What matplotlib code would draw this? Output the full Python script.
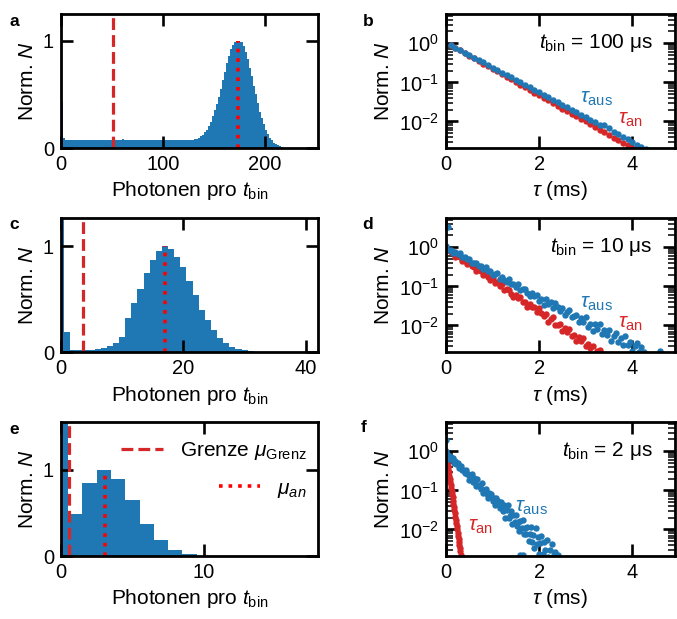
import numpy as np
import matplotlib
matplotlib.use("Agg")
import matplotlib.pyplot as plt

plt.rcParams["font.family"] = ["Liberation Sans", "DejaVu Sans"]
plt.rcParams["mathtext.fontset"] = "custom"
plt.rcParams["mathtext.rm"] = "Liberation Sans"
plt.rcParams["mathtext.it"] = "Liberation Sans:italic"
plt.rcParams["mathtext.bf"] = "Liberation Sans:bold"
plt.rcParams["axes.linewidth"] = 2.0
plt.rcParams["font.size"] = 15

BLUE = "#1f77b4"
RED = "#d62728"

# ---------- Histogramme (normiert) ----------
# a: t_bin = 100 us, Bins der Breite 2 von 0 bis 220
a_heights = [
    0.43, 0.09, 0.078, 0.072, 0.072, 0.072, 0.072, 0.072, 0.072, 0.072,
    0.072, 0.072, 0.072, 0.072, 0.072, 0.072, 0.072, 0.072, 0.072, 0.072,
    0.072, 0.072, 0.072, 0.072, 0.072, 0.072, 0.072, 0.072, 0.072, 0.072,
    0.085, 0.072, 0.072, 0.072, 0.072, 0.072, 0.072, 0.072, 0.072, 0.072,
    0.072, 0.072, 0.072, 0.072, 0.072, 0.072, 0.072, 0.072, 0.072, 0.072,
    0.072, 0.072, 0.072, 0.072, 0.072, 0.072, 0.072, 0.072, 0.072, 0.072,
    0.072, 0.072, 0.072, 0.072, 0.072,
    0.082, 0.088, 0.097, 0.108, 0.124, 0.145, 0.17, 0.205, 0.247, 0.296,
    0.35, 0.41, 0.48, 0.55, 0.63, 0.71, 0.79, 0.86, 0.92, 0.96,
    0.99, 1.0, 1.0, 0.99, 0.95, 0.90, 0.83, 0.75, 0.67, 0.58,
    0.50, 0.42, 0.34, 0.28, 0.22, 0.17, 0.13, 0.095, 0.07, 0.05,
    0.035, 0.025, 0.015, 0.008, 0.004,
]
a_grenze = 51
a_mu = 174

# c: t_bin = 10 us, Bins 0..31
c_heights = [
    3.0, 0.19, 0.015, 0.015, 0.018, 0.022, 0.03, 0.04, 0.054, 0.085,
    0.14, 0.32, 0.46, 0.60, 0.75, 0.87, 0.96, 1.0, 0.98, 0.905,
    0.81, 0.67, 0.54, 0.40, 0.30, 0.21, 0.13, 0.085, 0.047, 0.028,
    0.016, 0.01,
]
c_grenze = 3.65
c_mu = 17

# e: t_bin = 2 us, Bins 0..9
e_heights = [3.0, 0.49, 0.85, 1.0, 0.895, 0.65, 0.37, 0.18, 0.074, 0.027]
e_grenze = 0.56
e_mu = 3.08

# ---------- Abklingkurven (log10 der normierten Zählrate) ----------
# b: Bins alle 0.1 ms
b_aus_log = [
    -0.05, -0.11, -0.17, -0.24, -0.30, -0.37, -0.43, -0.49, -0.56, -0.62,
    -0.68, -0.75, -0.81, -0.87, -0.94, -1.00, -1.06, -1.13, -1.19, -1.25,
    -1.32, -1.38, -1.44, -1.51, -1.57, -1.64, -1.70, -1.76, -1.83, -1.89,
    -1.95, -2.02, -2.08, -2.10, -2.17, -2.27, -2.33, -2.40, -2.46, -2.52,
    -2.59, -2.65, -2.71,
]
b_an_log = [
    -0.05, -0.11, -0.18, -0.25, -0.32, -0.38, -0.45, -0.52, -0.59, -0.65,
    -0.72, -0.79, -0.86, -0.92, -0.99, -1.06, -1.13, -1.19, -1.26, -1.33,
    -1.40, -1.46, -1.53, -1.60, -1.67, -1.73, -1.80, -1.87, -1.94, -2.00,
    -2.07, -2.14, -2.21, -2.28, -2.34, -2.41, -2.48, -2.55, -2.61, -2.68,
]

d_aus_log = [
    0.04, -0.06, -0.06, -0.14, -0.11, -0.17, -0.15, -0.26, -0.25, -0.31,
    -0.30, -0.41, -0.39, -0.39, -0.48, -0.48, -0.56, -0.51, -0.60, -0.60,
    -0.72, -0.68, -0.67, -0.80, -0.75, -0.83, -0.90, -0.82, -0.95, -0.93,
    -1.02, -0.95, -1.10, -1.07, -1.07, -1.17, -1.24, -1.18, -1.25, -1.22,
    -1.37, -1.31, -1.47, -1.33, -1.45, -1.41, -1.56, -1.43, -1.54, -1.62,
    -1.55, -1.73, -1.65, -1.60, -1.78, -1.77, -1.72, -1.90, -1.81, -1.91,
    -1.79, -2.03, -1.96, -2.14, -1.96, -2.09, -1.96, -2.23, -2.11, -2.24,
    -2.12, -2.39, -2.27, -2.20, -2.41, -2.33, -2.51, -2.27, -2.50, -2.42,
    -2.65, -2.53, -2.45, -2.69, -2.56, -2.68,
]
d_an_log = [
    -0.07, -0.06, -0.13, -0.12, -0.24, -0.23, -0.24, -0.34, -0.34, -0.44,
    -0.39, -0.49, -0.50, -0.60, -0.59, -0.60, -0.71, -0.69, -0.76, -0.84,
    -0.78, -0.91, -0.90, -1.00, -0.93, -1.10, -1.07, -1.08, -1.19, -1.27,
    -1.22, -1.29, -1.27, -1.41, -1.39, -1.52, -1.44, -1.54, -1.53, -1.66,
    -1.56, -1.68, -1.77, -1.71, -1.90, -1.83, -1.79, -1.98, -1.98, -1.95,
    -2.14, -2.06, -2.17, -2.10, -2.28, -2.25, -2.39, -2.29, -2.40, -2.33,
    -2.53, -2.47, -2.58, -2.52, -2.72, -2.66, -2.63,
]
d_extra_tau = [0.05, 4.6]
d_extra_log = [0.52, -2.64]

f_aus_log = [
    0.00, -0.11, -0.10, -0.19, -0.14, -0.21, -0.17, -0.29, -0.26, -0.33,
    -0.30, -0.43, -0.40, -0.38, -0.48, -0.47, -0.56, -0.48, -0.59, -0.57,
    -0.73, -0.64, -0.59, -0.78, -0.68, -0.78, -0.88, -0.72, -0.90, -0.85,
    -0.97, -0.82, -1.07, -0.98, -0.96, -1.09, -1.19, -1.07, -1.14, -1.08,
    -1.27, -1.19, -1.38, -1.20, -1.34, -1.28, -1.46, -1.29, -1.41, -1.54,
    -1.37, -1.70, -1.51, -1.37, -1.70, -1.65, -1.52, -1.85, -1.64, -1.81,
    -1.62, -1.92, -1.81, -2.04, -1.79, -1.96, -1.77, -2.12, -1.95, -2.11,
    -1.94, -2.29, -2.12, -1.94, -2.33, -2.15, -2.48, -1.96, -2.38, -2.20,
    -2.62, -2.35, -2.17, -2.62, -2.32, -2.52, -2.73, -2.28, -2.70, -2.52,
    -2.79, -2.37, -2.94, -2.66, -2.57, -2.87, -2.66,
]
f_an_log = [
    -0.05, -0.13, -0.21, -0.29, -0.37, -0.46, -0.54, -0.62, -0.70, -0.78,
    -0.86, -0.94, -1.02, -1.10, -1.18, -1.27, -1.35, -1.43, -1.51, -1.59,
    -1.67, -1.75, -1.83, -1.91, -1.99, -2.08, -2.16, -2.24, -2.32, -2.40,
    -2.48, -2.56, -2.64, -2.72, -2.80,
]
f_extra_tau = [0.01, 1.6, 1.65]
f_extra_log = [0.3, -2.66, -2.64]

# Zeitachsen (Bin-Positionen in ms)
b_tau_aus = np.arange(1, len(b_aus_log) + 1) * 0.1
b_tau_an = np.arange(1, len(b_an_log) + 1) * 0.1
d_tau_aus = np.arange(len(d_aus_log)) * 0.05
d_tau_an = np.arange(len(d_an_log)) * 0.05
f_tau_aus = np.arange(len(f_aus_log)) * 0.025
f_tau_an = np.arange(len(f_an_log)) * 0.01


def style_axes(ax):
    ax.tick_params(which="major", direction="in", top=True, right=True,
                   length=8.5, width=1.9, labelsize=14.5, pad=5)
    ax.tick_params(which="minor", direction="in", top=True, right=True,
                   length=5, width=1.1)


def hist_panel(ax, edges, heights, grenze, mu, xmax, ymax, xticks, legend=False):
    ax.stairs(heights, edges, fill=True, color=BLUE, linewidth=0)
    l1 = ax.axvline(grenze, color=RED, linestyle="--", linewidth=2.3)
    l2, = ax.plot([mu, mu], [0, 1], color="red", linestyle=":", linewidth=2.6)
    ax.set_xlim(0, xmax)
    ax.set_ylim(0, ymax)
    ax.set_xticks(xticks)
    ax.set_yticks([0, 1])
    ax.set_xlabel(r"Photonen pro $t_\mathrm{bin}$", fontsize=15)
    ax.set_ylabel(r"Norm. $N$", fontsize=15)
    style_axes(ax)
    if legend:
        leg1 = ax.legend([l1], [r"Grenze $\mu_\mathrm{Grenz}$"], loc="center right",
                         bbox_to_anchor=(0.955, 0.785), frameon=False,
                         borderpad=0, borderaxespad=0, fontsize=15)
        ax.add_artist(leg1)
        ax.legend([l2], [r"$\mu_{an}$"], loc="center right",
                  bbox_to_anchor=(0.955, 0.50), frameon=False,
                  borderpad=0, borderaxespad=0, fontsize=15)


def decay_panel(ax, t_aus, log_aus, t_an, log_an, label, pos_aus, pos_an, extra=None):
    ax.plot(t_an, 10.0 ** np.array(log_an), "o", color=RED, ms=4.6, mew=0)
    ax.plot(t_aus, 10.0 ** np.array(log_aus), "o", color=BLUE, ms=4.6, mew=0)
    if extra is not None:
        ax.plot(extra[0], 10.0 ** np.array(extra[1]), "o", color=BLUE, ms=4.6, mew=0)
    ax.set_yscale("log")
    ax.set_xlim(0, 4.92)
    ax.set_ylim(2.1e-3, 5.6)
    ax.set_xticks([0, 2, 4])
    ax.set_yticks([1, 0.1, 0.01])
    ax.set_xlabel(r"$\tau$ (ms)", fontsize=15)
    ax.set_ylabel(r"Norm. $N$", fontsize=15)
    style_axes(ax)
    ax.text(0.902, 0.78, label, transform=ax.transAxes, ha="right", va="center", fontsize=15)
    ax.text(pos_aus[0], pos_aus[1], r"$\tau_\mathrm{aus}$", color=BLUE,
            transform=ax.transAxes, ha="center", va="center", fontsize=15)
    ax.text(pos_an[0], pos_an[1], r"$\tau_\mathrm{an}$", color=RED,
            transform=ax.transAxes, ha="center", va="center", fontsize=15)


fig = plt.figure(figsize=(6.77, 6.19), dpi=100)

lx, lw = 61 / 677, 257 / 677
rx, rw = 446 / 677, 229 / 677
h = 134 / 619
rows = [1 - 148 / 619, 1 - 352 / 619, 1 - 556 / 619]

ax_a = fig.add_axes([lx, rows[0], lw, h])
ax_b = fig.add_axes([rx, rows[0], rw, h])
ax_c = fig.add_axes([lx, rows[1], lw, h])
ax_d = fig.add_axes([rx, rows[1], rw, h])
ax_e = fig.add_axes([lx, rows[2], lw, h])
ax_f = fig.add_axes([rx, rows[2], rw, h])

hist_panel(ax_a, np.arange(0, 2 * len(a_heights) + 1, 2), a_heights, a_grenze, a_mu,
           252, 1.25, [0, 100, 200])
hist_panel(ax_c, np.arange(len(c_heights) + 1) - 0.5, c_heights, c_grenze, c_mu,
           42, 1.27, [0, 20, 40])
hist_panel(ax_e, np.arange(len(e_heights) + 1) - 0.5, e_heights, e_grenze, e_mu,
           18, 1.55, [0, 10], legend=True)

decay_panel(ax_b, b_tau_aus, b_aus_log, b_tau_an, b_an_log,
            r"$t_\mathrm{bin}$ = 100 μs", (0.657, 0.37), (0.805, 0.21))
decay_panel(ax_d, d_tau_aus, d_aus_log, d_tau_an, d_an_log,
            r"$t_\mathrm{bin}$ = 10 μs", (0.657, 0.365), (0.806, 0.21),
            extra=(d_extra_tau, d_extra_log))
decay_panel(ax_f, f_tau_aus, f_aus_log, f_tau_an, f_an_log,
            r"$t_\mathrm{bin}$ = 2 μs", (0.373, 0.36), (0.153, 0.22),
            extra=(f_extra_tau, f_extra_log))

for letter, x, y in [("a", 14, 22), ("b", 368, 22), ("c", 14, 225),
                     ("d", 368, 225), ("e", 14, 430), ("f", 364, 428)]:
    fig.text(x / 677, 1 - y / 619, letter, fontsize=12.5, fontweight="bold",
             ha="center", va="center")

fig.savefig("out.png", dpi=100)
